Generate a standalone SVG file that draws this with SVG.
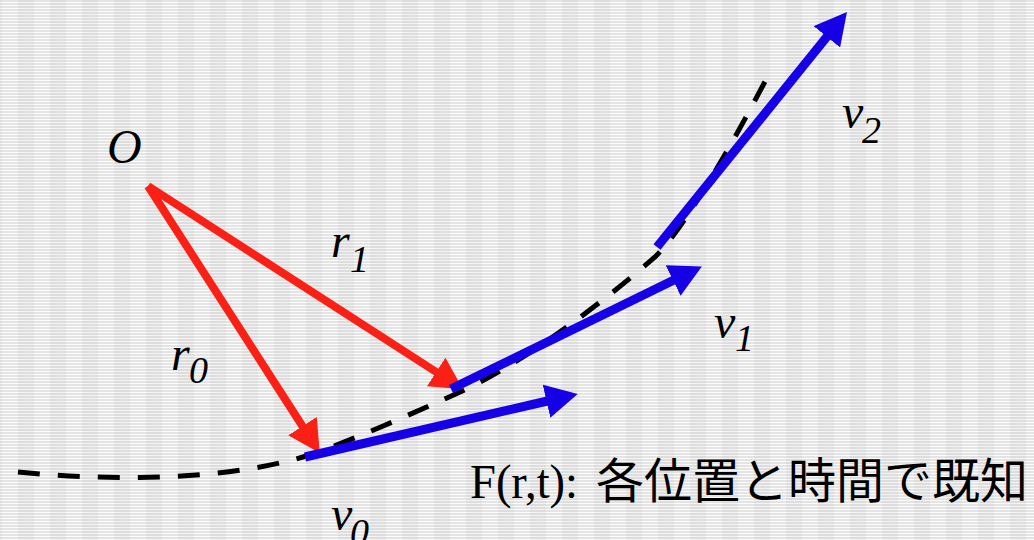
<svg xmlns="http://www.w3.org/2000/svg" width="1034" height="540" viewBox="0 0 1034 540">
  <defs>
    <pattern id="bg" x="18" y="0" width="32" height="3" patternUnits="userSpaceOnUse">
      <rect x="0" y="0" width="16" height="3" fill="#dddddd"/>
      <rect x="16" y="0" width="16" height="3" fill="#e4e4e4"/>
      <rect x="0" y="2" width="16" height="1" fill="#f3f3f3"/>
      <rect x="16" y="2" width="16" height="1" fill="#fcfcfc"/>
    </pattern>
    <marker id="ahR" viewBox="0 -17 32 34" refX="1" refY="0" markerWidth="32" markerHeight="34" markerUnits="userSpaceOnUse" orient="auto">
      <path d="M0,-17 L32,0 L0,17 z" fill="#fa2016"/>
    </marker>
    <marker id="ahB" viewBox="0 -17 32 34" refX="1" refY="0" markerWidth="32" markerHeight="34" markerUnits="userSpaceOnUse" orient="auto">
      <path d="M0,-17 L32,0 L0,17 z" fill="#1600e6"/>
    </marker>
  </defs>
  <style>
    .red { stroke: #fa2016; stroke-width: 8; fill: none; marker-end: url(#ahR); }
    .blue { stroke: #1600e6; stroke-width: 9; fill: none; marker-end: url(#ahB); }
    .curve { stroke: #000; stroke-width: 5; fill: none; stroke-dasharray: 22 18; }
    .lbl { font-family: "Liberation Serif", "Times New Roman", serif; font-style: italic; font-size: 48px; fill: #000; }
    .sub { font-size: 38px; }
    .cap { font-family: "Liberation Serif", "Times New Roman", serif; font-size: 48px; fill: #000; }
    .jp { font-family: "Noto Sans CJK JP", "Noto Sans", sans-serif; font-size: 48px; fill: #000; }
  </style>
  <rect width="1034" height="540" fill="url(#bg)"/>

  <g id="connectors">
    <path id="trajectory" class="curve" d="M18,472 C110,481 220,481 303,457 C340,446 420,410 458,393 C520,365 600,305 655,257 C690,222 745,120 769,74"/>
    <line id="r0" class="red" x1="148" y1="186" x2="303" y2="427"/>
    <line id="r1" class="red" x1="148" y1="186" x2="437" y2="372.5"/>
    <line id="v0" class="blue" x1="305" y1="457" x2="547.5" y2="401"/>
    <line id="v1" class="blue" x1="451" y1="389" x2="674" y2="280"/>
    <line id="v2" class="blue" x1="657" y1="247" x2="827.5" y2="36"/>
  </g>

  <g id="label-O"><text class="lbl" x="107" y="163" font-size="50">O</text></g>
  <g id="label-r1"><text class="lbl" x="331" y="257">r<tspan class="sub" x="350" y="272">1</tspan></text></g>
  <g id="label-r0"><text class="lbl" x="171" y="370">r<tspan class="sub" x="189" y="383">0</tspan></text></g>
  <g id="label-v2"><text class="lbl" x="842" y="128">v<tspan class="sub" x="862" y="143">2</tspan></text></g>
  <g id="label-v1"><text class="lbl" x="714" y="338">v<tspan class="sub" x="735" y="351">1</tspan></text></g>
  <g id="label-v0"><text class="lbl" x="331" y="530">v<tspan class="sub" x="350" y="545">0</tspan></text></g>

  <g id="caption">
    <text class="cap" x="470" y="498" textLength="108" lengthAdjust="spacingAndGlyphs">F(r,t):</text>
    <text class="jp" x="596" y="498">各位置と時間で既知</text>
  </g>
</svg>
